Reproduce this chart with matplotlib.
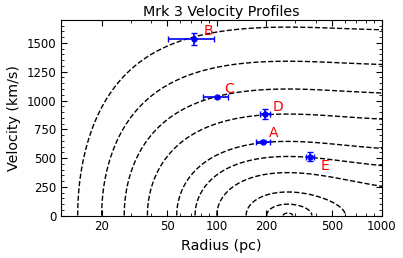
# Mrk 3 velocity profiles: radiative driving model contours + measured knots
import numpy as np
import matplotlib.pyplot as plt
from matplotlib.ticker import FixedLocator, ScalarFormatter, NullFormatter, LogLocator, MultipleLocator

# measured knots
knot_names = ['A', 'B', 'C', 'D', 'E']
knot_radius = [192, 73, 100, 197, 369]          # pc
knot_radius_err = [18, 22.5, 17.5, 14, 21]
knot_velocity = [643, 1535, 1032, 881, 512]     # km/s
knot_velocity_err = [15, 50, 10, 43, 36]
# label offsets (points) for the letters
label_offset = [(7, 6), (10, 5.5), (9, 5.5), (9, 5), (11, -7)]

# model: launch radii of the plotted profiles (pc)
launch_radius = [14.3, 20, 27.4, 37.9, 57.1, 73.8, 100, 150.7, 201, 253]
r_star = 270.0       # pc, radius where driving force balances gravity
mass_slope = 1.3     # enclosed mass ~ r^slope inside the break
x_break = 1.8        # break radius in units of r_star
n_break = 4
v_scale = 169000.0   # (km/s)^2

# potential-like term G(r): v^2 = v_scale * (G(r_launch) - G(r))
r = np.geomspace(10, 1100, 1600)
x = r / r_star
norm = (1 + (1 / x_break) ** n_break) ** (mass_slope / n_break)
m = norm * x ** mass_slope / (1 + (x / x_break) ** n_break) ** (mass_slope / n_break)
dG = (m - 1) / x ** 2
G = np.concatenate([[0], np.cumsum(0.5 * (dG[1:] + dG[:-1]) * np.diff(x))])

v = np.linspace(0, 1800, 1400)
R, V = np.meshgrid(r, v)
Z = V ** 2 / v_scale + G[None, :]
levels = np.sort(np.interp(np.log(launch_radius), np.log(r), G))

fig = plt.figure(figsize=(4.03, 2.58), dpi=100)
ax = fig.add_subplot(1, 1, 1)
fig.subplots_adjust(left=0.1526, right=0.9467, top=0.9225, bottom=0.1647)

ax.contour(R, V, Z, levels=levels, colors='k', linestyles='dashed', linewidths=1.0)

ax.errorbar(knot_radius, knot_velocity, xerr=knot_radius_err, yerr=knot_velocity_err,
            fmt='o', color='blue', ms=3.5, elinewidth=1.2, capsize=2, capthick=1, zorder=3)
for i, name in enumerate(knot_names):
    ax.annotate(name, (knot_radius[i], knot_velocity[i]), xytext=label_offset[i],
                textcoords='offset points', color='red', fontsize=10,
                ha='center', va='center')

ax.set_xscale('log')
ax.set_xlim(11.4, 1000)
ax.set_ylim(0, 1700)
ax.xaxis.set_major_locator(FixedLocator([20, 50, 100, 200, 500, 1000]))
ax.xaxis.set_major_formatter(ScalarFormatter())
ax.xaxis.set_minor_locator(LogLocator(base=10, subs=np.arange(2, 10)))
ax.xaxis.set_minor_formatter(NullFormatter())
ax.yaxis.set_major_locator(MultipleLocator(250))
ax.yaxis.set_minor_locator(MultipleLocator(50))
ax.tick_params(which='both', direction='in', top=True, right=True, labelsize=8.5)
ax.tick_params(which='major', length=4)
ax.tick_params(which='minor', length=2.3)

ax.set_xlabel('Radius (pc)', fontsize=10.3)
ax.set_ylabel('Velocity (km/s)', fontsize=10.3)
ax.set_title('Mrk 3 Velocity Profiles', fontsize=10.3, pad=3)

plt.savefig('out.png', dpi=100)
